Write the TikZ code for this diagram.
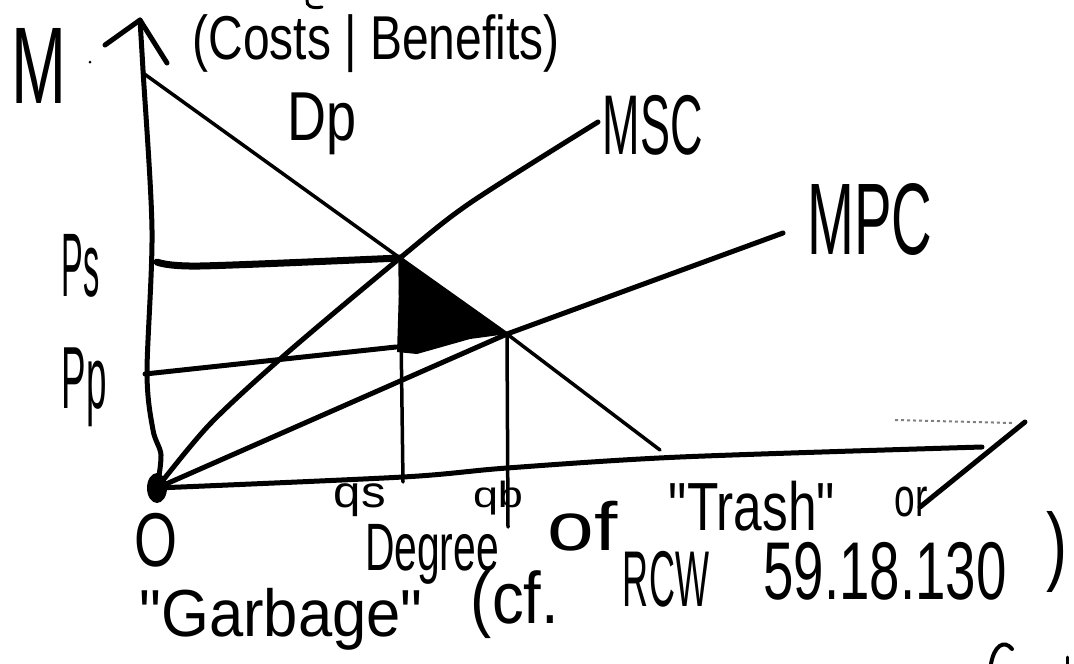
\documentclass[tikz,border=0pt]{standalone}
\usepackage{fontspec}
\setmainfont{Liberation Sans}
\newcommand{\fitbox}[3]{\resizebox*{#1pt}{#2pt}{#3}}
\newcommand{\qq}{\textquotedbl}
\begin{document}
\begin{tikzpicture}[x=1pt,y=-1pt,
  axis/.style={line width=5pt, line cap=round, line join=round},
  curve/.style={line width=5pt, line cap=round, line join=round},
  demand/.style={line width=3.5pt, line cap=round},
  guide/.style={line width=3.5pt, line cap=round},
  lab/.style={inner sep=0pt, outer sep=0pt, anchor=center}]
\useasboundingbox (0,0) rectangle (1074,664);
% coordinates
\coordinate (tip) at (140,20);
\coordinate (bl) at (105,45);
\coordinate (br) at (167,63);
\coordinate (v0) at (143,70);
\coordinate (v1) at (152,230);
\coordinate (v2) at (147,373);
\coordinate (v3) at (153,430);
\coordinate (v4) at (161,455);
\coordinate (O) at (157,488);
\coordinate (h1) at (403,477);
\coordinate (h2) at (507,468);
\coordinate (h3) at (680,457);
\coordinate (hend) at (982,447);
\coordinate (S) at (400,258);
\coordinate (B) at (507,334);
\coordinate (dtop) at (143,73);
\coordinate (dend) at (660,450);
\coordinate (m1) at (210,424);
\coordinate (m2) at (287,353);
\coordinate (m3) at (470,203);
\coordinate (mscend) at (598,122);
\coordinate (mpcend) at (783,233);
\coordinate (ps0) at (157,262);
\coordinate (ps1) at (200,266);
\coordinate (pp0) at (145,374);
\coordinate (pp1) at (396,347);
\coordinate (tbl) at (397,352);
\coordinate (tb2) at (417,354);
\coordinate (tb3) at (470,339);
\coordinate (qsend) at (403,482);
\coordinate (qbend) at (508,527);
\coordinate (sl1) at (1025,422);
\coordinate (sl2) at (920,507);
\coordinate (da1) at (895,420);
\coordinate (da2) at (1013,423);
% filled triangle
\fill (S) -- (B) -- (tb3) -- (tb2) -- (tbl) -- cycle;
% axes
\draw[axis] (bl) -- (tip) -- (br);
\draw[axis] plot[smooth] coordinates {(tip) (v0) (v1) (v2) (v3) (v4) (O)};
\draw[axis] plot[smooth] coordinates {(O) (h1) (h2) (h3) (hend)};
\fill (O) ellipse (10 and 15);
% demand
\draw[demand] (dtop) -- (S) -- (B) -- (dend);
% MSC, MPC
\draw[curve] plot[smooth] coordinates {(O) (m1) (m2) (S) (m3) (mscend)};
\draw[curve] (O) -- (B) -- (mpcend);
% price lines
\draw[line width=7pt, line cap=round] plot[smooth] coordinates {(ps0) (ps1) (S)};
\draw[line width=5pt, line cap=round] (pp0) -- (pp1);
% quantity lines
\draw[guide] (S) -- (qsend);
\draw[guide] (B) -- (qbend);
% slash and faint stroke
\draw[axis] (sl1) -- (sl2);
\draw[line width=2pt, gray, dashed] (da1) -- (da2);
% stray marks and cut-off pen strokes at the edges
\fill (90,62) circle (1.5);
\draw[line width=3pt, line cap=round] (307,0) .. controls (306,6) and (312,9) .. (322,7);
\draw[line width=4pt, line cap=round] (1012,649) .. controls (1004,639) and (994,646) .. (991,664);
\draw[line width=3pt, line cap=round] (1067,657) -- (1067,664);
% labels
\node[lab] (mlab) at (39.5,65.5) {\fitbox{55}{75}{M}};
\node[lab] (axlab) at (376,44) {\fitbox{367}{58}{(Costs | Benefits)}};
\node[lab] (dplab) at (322,124) {\fitbox{69}{62}{Dp}};
\node[lab] (msclab) at (653,125) {\fitbox{100}{60}{MSC}};
\node[lab] (mpclab) at (870,219) {\fitbox{125}{72}{MPC}};
\node[lab] (pslab) at (81,266) {\fitbox{38}{63}{Ps}};
\node[lab] (pplab) at (84,387) {\fitbox{45}{79}{Pp}};
\node[lab] (olab) at (156,540) {\fitbox{43}{54}{O}};
\node[lab] (qslab) at (360,500) {\fitbox{52}{33}{qs}};
\node[lab] (qblab) at (498,498) {\fitbox{50}{34}{qb}};
\node[lab] (deglab) at (432,554) {\fitbox{134}{60}{Degree}};
\node[lab] (oflab) at (583,526) {\fitbox{70}{50}{of}};
\node[lab] (trashlab) at (752,506) {\fitbox{166}{50}{\qq Trash\qq}};
\node[lab] (orlab) at (911,502) {\fitbox{33}{30}{or}};
\node[lab] (garblab) at (281,619) {\fitbox{283}{62}{\qq Garbage\qq}};
\node[lab] (cflab) at (515,605) {\fitbox{88}{68}{(cf.}};
\node[lab] (rcwlab) at (666,579) {\fitbox{86}{56}{RCW}};
\node[lab] (numlab) at (885,571) {\fitbox{243}{58}{59.18.130}};
\node[lab] (parlab) at (1057,552) {\fitbox{21}{81}{)}};
\end{tikzpicture}
\end{document}
